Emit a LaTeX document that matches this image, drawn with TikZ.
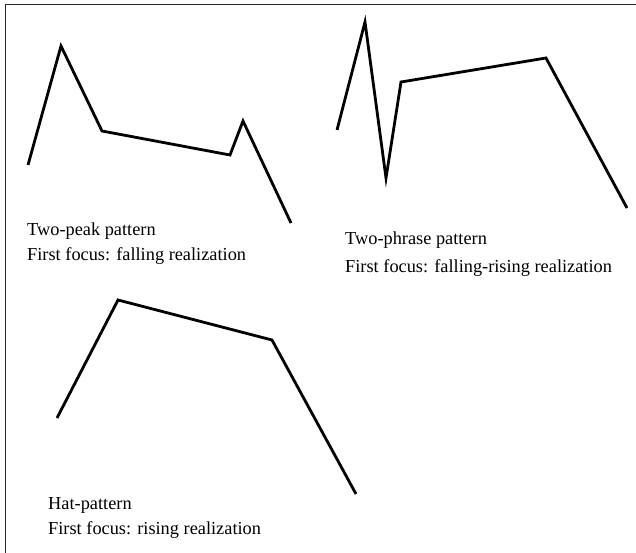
\documentclass[tikz,border=0pt]{standalone}
\usepackage{fontspec}
\setmainfont{Liberation Serif}
\begin{document}
\begin{tikzpicture}[x=1bp,y=-1bp,
  contour/.style={line width=2.8bp,line join=miter,line cap=butt},
  frameline/.style={line width=1.8bp,draw=black!85},
  caption/.style={anchor=west,inner sep=0pt,font=\fontsize{18.4}{21}\selectfont}]
\useasboundingbox (0,0) rectangle (636,553);
\fill[white] (0,0) rectangle (636,553);
% frame
\coordinate (ftr) at (636,4.5);
\coordinate (ftl) at (5.5,4.5);
\coordinate (fbl) at (5.5,553);
\draw[frameline] (ftr) -- (ftl) -- (fbl);
% panel 1
\coordinate (a1) at (28,165);
\coordinate (a2) at (61,46);
\coordinate (a3) at (102,131);
\coordinate (a4) at (230,155);
\coordinate (a5) at (243,121);
\coordinate (a6) at (291,223);
\draw[contour] (a1) -- (a2) -- (a3) -- (a4) -- (a5) -- (a6);
\node[caption] (t1a) at (27,231) {Two-peak pattern};
\node[caption] (t1b) at (27,256) {First focus: falling realization};
% panel 2
\coordinate (b1) at (337,130);
\coordinate (b2) at (365,22);
\coordinate (b3) at (386,178);
\coordinate (b4) at (401,82);
\coordinate (b5) at (546,58);
\coordinate (b6) at (627,208);
\draw[contour] (b1) -- (b2) -- (b3) -- (b4) -- (b5) -- (b6);
\node[caption] (t2a) at (345,240) {Two-phrase pattern};
\node[caption] (t2b) at (345,268) {First focus: falling-rising realization};
% panel 3
\coordinate (c1) at (57,418);
\coordinate (c2) at (118,300);
\coordinate (c3) at (272,340);
\coordinate (c4) at (356,494);
\draw[contour] (c1) -- (c2) -- (c3) -- (c4);
\node[caption] (t3a) at (48,505) {Hat-pattern};
\node[caption] (t3b) at (48,530) {First focus: rising realization};
\end{tikzpicture}
\end{document}
